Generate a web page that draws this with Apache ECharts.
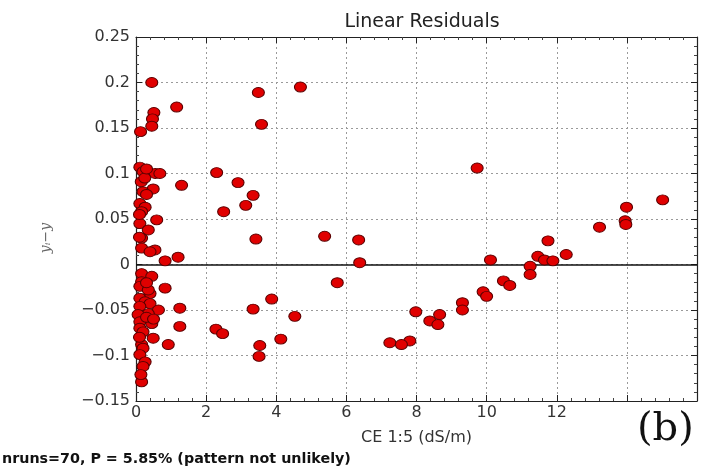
<!DOCTYPE html>
<html><head><meta charset="utf-8">
<script src="https://cdn.jsdelivr.net/npm/echarts@6/dist/echarts.min.js"></script>
<style>html,body{margin:0;padding:0;background:#fff}#c{width:704px;height:469px}</style>
</head><body><div id="c"></div>
<script>
// Residual points: CE 1:5 (dS/m) vs residual
const ceValues = [
  0.45,1.16,0.51,0.47,0.45,0.13,0.11,0.20,0.55,0.68,0.15,1.30,0.49,0.20,0.30,0.11,0.26,0.16,0.59,0.11,0.35,0.16,0.16,0.54,0.40,1.20,0.83,
  0.16,0.45,0.16,0.11,0.83,0.40,0.11,0.26,0.40,0.11,0.64,0.35,1.25,0.06,0.11,0.45,1.25,0.11,0.49,0.92,0.16,0.20,0.11,0.26,0.20,0.16,0.14,
  0.30,0.20,0.35,0.25,0.10,0.30,0.10,0.30,0.50,0.10,
  2.30,2.91,3.34,3.13,2.50,3.42,5.38,6.35,6.38,5.74,3.87,3.34,4.53,2.28,2.47,4.13,3.53,3.51,3.49,4.69,3.58,
  9.73,15.02,13.99,13.95,13.97,13.22,11.75,12.27,11.46,11.65,11.89,10.11,11.24,11.24,10.48,10.66,9.90,10.00,9.31,9.31,7.98,8.66,8.38,8.61,7.81,7.24,7.57
];
const residuals = [
  0.200,0.173,0.167,0.160,0.152,0.146,0.107,0.102,0.100,0.100,0.091,0.087,0.083,0.080,0.077,0.067,0.063,0.058,0.049,0.045,0.038,0.029,0.018,0.016,0.014,0.008,0.004,
  -0.010,-0.013,-0.019,-0.024,-0.026,-0.032,-0.037,-0.041,-0.043,-0.046,-0.050,-0.054,-0.048,-0.055,-0.063,-0.065,-0.068,-0.070,-0.081,-0.088,-0.088,-0.092,-0.099,-0.107,-0.112,-0.129,-0.121,
  -0.058,-0.074,-0.028,0.095,0.055,0.105,0.030,-0.020,-0.060,-0.080,
  0.101,0.090,0.076,0.065,0.058,0.028,0.031,0.027,0.002,-0.020,-0.038,-0.049,-0.057,-0.071,-0.076,-0.082,-0.089,-0.101,0.189,0.195,0.154,
  0.106,0.071,0.063,0.048,0.044,0.041,0.026,0.011,0.009,0.005,0.004,0.005,-0.002,-0.011,-0.018,-0.023,-0.030,-0.035,-0.042,-0.050,-0.052,-0.055,-0.062,-0.066,-0.084,-0.086,-0.088
];
const xTickLabels = ['0','2','4','6','8','10','12'];
const yTickLabels = ['−0.15','−0.1','−0.05','0','0.05','0.1','0.15','0.2','0.25'];

const points = ceValues.map((x, i) => [x, residuals[i]]);
const font = 'DejaVu Sans';
const tickCol = '#333';
const chart = echarts.init(document.getElementById('c'));
const gridDef = {left: 136, right: 7, top: 37, bottom: 68};
const splitDotted = {show: true, lineStyle: {color: '#9a9a9a', type: [2, 3], width: 1}};
chart.setOption({
  animation: false,
  title: {text: 'Linear Residuals', left: 417, top: 8, textAlign: 'center',
    textStyle: {fontFamily: font, fontSize: 19, fontWeight: 'normal', color: '#222'}},
  grid: gridDef,
  xAxis: [{
    type: 'value', min: 0, max: 16, interval: 2,
    name: 'CE 1:5 (dS/m)', nameLocation: 'middle', nameGap: 29,
    nameTextStyle: {fontFamily: font, fontSize: 16, color: '#333'},
    axisLine: {show: true, onZero: false, lineStyle: {color: '#222', width: 1.2}},
    axisTick: {show: true, inside: true, length: 6, lineStyle: {color: '#222'}},
    minorTick: {show: true, splitNumber: 5, length: 3, lineStyle: {color: '#444'}},
    splitLine: splitDotted,
    axisLabel: {fontFamily: font, fontSize: 16, color: tickCol, margin: 4,
      formatter: v => { const i = Math.round(v / 2); return i < xTickLabels.length ? xTickLabels[i] : ''; }}
  }, {
    type: 'value', min: 0, max: 16, interval: 2, position: 'top',
    axisLine: {show: true, onZero: false, lineStyle: {color: '#222', width: 1.2}},
    axisTick: {show: true, inside: true, length: 6, lineStyle: {color: '#222'}},
    minorTick: {show: true, splitNumber: 5, length: 3, lineStyle: {color: '#444'}},
    splitLine: {show: false}, axisLabel: {show: false}
  }],
  yAxis: [{
    type: 'value', min: -0.15, max: 0.25, interval: 0.05,
    axisLine: {show: true, onZero: false, lineStyle: {color: '#222', width: 1.2}},
    axisTick: {show: true, inside: true, length: 6, lineStyle: {color: '#222'}},
    minorTick: {show: true, splitNumber: 5, length: 3, lineStyle: {color: '#444'}},
    splitLine: splitDotted,
    axisLabel: {fontFamily: font, fontSize: 16, color: tickCol, margin: 6,
      formatter: v => yTickLabels[Math.round((v + 0.15) / 0.05)]}
  }, {
    type: 'value', min: -0.15, max: 0.25, interval: 0.05, position: 'right',
    axisLine: {show: true, onZero: false, lineStyle: {color: '#222', width: 1.2}},
    axisTick: {show: true, inside: true, length: 6, lineStyle: {color: '#222'}},
    minorTick: {show: true, splitNumber: 5, length: 3, lineStyle: {color: '#444'}},
    splitLine: {show: false}, axisLabel: {show: false}
  }],
  series: [{
    type: 'scatter', data: points, symbol: 'circle', symbolSize: [12, 10],
    itemStyle: {color: '#e00000', borderColor: '#5a0000', borderWidth: 1, opacity: 1},
    markLine: {silent: true, symbol: 'none', label: {show: false},
      lineStyle: {color: '#111', type: 'solid', width: 1.6},
      data: [{yAxis: 0}], z: 1}
  }],
  graphic: [
    {type: 'text', x: 46, y: 238, rotation: Math.PI / 2,
      style: {text: 'yᵢ−y', font: 'italic 14px "DejaVu Serif"', fill: '#666', align: 'center', verticalAlign: 'middle'}},
    {type: 'text', left: 2, top: 452, style: {text: 'nruns=70, P = 5.85% (pattern not unlikely)',
      font: 'bold 14.3px "DejaVu Sans"', fill: '#111'}},
    {type: 'text', left: 637, top: 410, style: {text: '(b)', font: '40px "DejaVu Serif"', fill: '#111'}}
  ]
});
</script></body></html>
